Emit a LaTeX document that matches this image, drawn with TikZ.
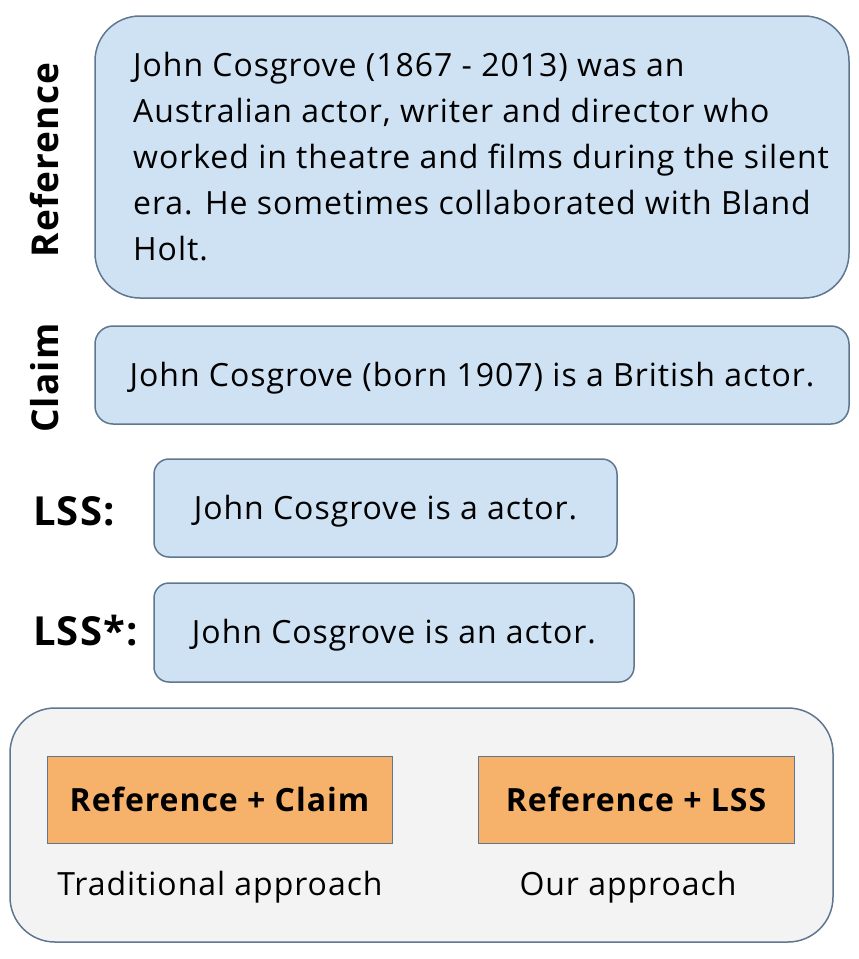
\documentclass[tikz,border=0pt]{standalone}
\usepackage{fontspec}
\setmainfont{Open Sans}[LetterSpace=3]
\definecolor{boxblue}{HTML}{CFE2F3}
\definecolor{boxline}{HTML}{5F7690}
\definecolor{boxorange}{HTML}{F6B26B}
\definecolor{boxgray}{HTML}{F3F3F3}
\begin{document}
\begin{tikzpicture}[x=1pt,y=-1pt,
    panel/.style={draw=boxline,line width=1.5pt,fill=boxblue,inner sep=0pt},
    tag/.style={font=\fontsize{37}{40}\selectfont\bfseries,inner sep=0pt},
    body/.style={font=\fontsize{32}{46}\selectfont,inner sep=0pt}]
  \useasboundingbox (0,0) rectangle (859,959);
  % text boxes
  \node[panel,rounded corners=45pt,minimum width=754pt,minimum height=282pt] (refbox) at (472,157) {};
  \node[panel,rounded corners=18pt,minimum width=754pt,minimum height=98pt] (claimbox) at (472,375) {};
  \node[panel,rounded corners=15pt,minimum width=463pt,minimum height=98pt] (lssbox) at (385.5,508) {};
  \node[panel,rounded corners=15pt,minimum width=480pt,minimum height=99pt] (lssstarbox) at (394,632.5) {};
  \node[body,align=left,anchor=west] (reftext) at (133,157)
    {John Cosgrove (1867 - 2013) was an\\Australian actor, writer and director who\\worked in theatre and films during the silent\\era. He sometimes collaborated with Bland\\Holt.};
  \node[body,yshift=-3pt] (claimtext) at (claimbox.center) {John Cosgrove (born 1907) is a British actor.};
  \node[body,yshift=-3pt] (lsstext) at (lssbox.center) {John Cosgrove is a actor.};
  \node[body,yshift=-3pt] (lssstartext) at (lssstarbox.center) {John Cosgrove is an actor.};
  % labels
  \node[tag,rotate=90] (reflabel) at (45,160) {Reference};
  \node[tag,rotate=90] (claimlabel) at (45,378) {Claim};
  \node[tag,anchor=west,font=\fontsize{40}{44}\selectfont\bfseries] (lsslabel) at (33,511) {LSS:};
  \node[tag,anchor=west,font=\fontsize{40}{44}\selectfont\bfseries] (lssstarlabel) at (33,631) {LSS*:};
  % approaches
  \node[draw=boxline,line width=1.5pt,fill=boxgray,rounded corners=45pt,
    minimum width=823pt,minimum height=234pt] (approaches) at (421.5,825) {};
  \node[draw=boxline,line width=1pt,fill=boxorange,minimum width=345pt,minimum height=87pt,
    font=\fontsize{32}{36}\selectfont\bfseries] (trad) at (219.5,799.5) {Reference + Claim};
  \node[draw=boxline,line width=1pt,fill=boxorange,minimum width=316pt,minimum height=87pt,
    font=\fontsize{32}{36}\selectfont\bfseries] (ours) at (636,799.5) {Reference + LSS};
  \node[body] (tradtext) at (220,887) {Traditional approach};
  \node[body] (ourstext) at (628,887) {Our approach};
\end{tikzpicture}
\end{document}
